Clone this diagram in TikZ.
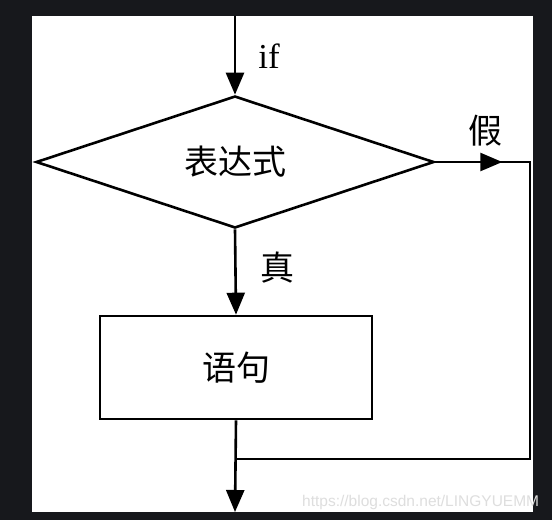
\documentclass[tikz,border=0pt]{standalone}
\usepackage{fontspec}
\setmainfont{Liberation Serif}
\newfontfamily\cjk{Noto Sans CJK SC}
\newfontfamily\wmfont{Liberation Sans}
\usetikzlibrary{shapes.geometric,arrows.meta,decorations.markings}
\definecolor{pagedark}{HTML}{17181C}
\tikzset{
    plain/.style={line width=2.6pt},
    flow/.style={plain, -{Triangle[length=22pt,width=18pt]}},
    midarrow/.style={postaction={decorate}, decoration={markings,
        mark=at position #1 with {\arrow{Triangle[length=22pt,width=18pt]}}}},
    cjklbl/.style={inner sep=0pt, font=\cjk\fontsize{34}{40}\selectfont},
    txtlbl/.style={inner sep=0pt, font=\fontsize{35}{40}\selectfont},
}
\begin{document}
\begin{tikzpicture}[x=1pt, y=-1pt]
    \useasboundingbox (0,0) rectangle (552,520);
    \fill[pagedark] (0,0) rectangle (552,520);
    \fill[white] (32,16) rectangle (533,512);
    \coordinate (start) at (235,16);
    \node[diamond, draw, plain, inner sep=0pt, aspect=3.02, minimum width=398pt, minimum height=132pt, cjklbl] (cond) at (235,162) {表达式};
    \node[rectangle, draw, plain, inner sep=0pt, minimum width=272pt, minimum height=103pt, cjklbl] (body) at (236,367.5) {语句};
    \coordinate (corner1) at (530,162);
    \coordinate (corner2) at (530,459);
    \coordinate (join) at (235,459);
    \coordinate (finish) at (235,512);
    \draw [flow] (start) -- node[txtlbl, right, pos=0.51, xshift=22pt] {if} (cond.north);
    \draw [flow] (cond.south) -- node[cjklbl, right, pos=0.45, xshift=24pt] {真} (body.north);
    \draw [plain, midarrow=67pt] (cond.east) -- node[cjklbl, above, pos=0.53, yshift=14pt] {假} (corner1) -- (corner2) -- (join);
    \draw [flow] (body.south) -- (finish);
    \node[anchor=base west, inner sep=0pt, text=black!13, font=\wmfont\fontsize{15.5}{18}\selectfont] (mark) at (302,506) {https://blog.csdn.net/LINGYUEMM};
\end{tikzpicture}
\end{document}
